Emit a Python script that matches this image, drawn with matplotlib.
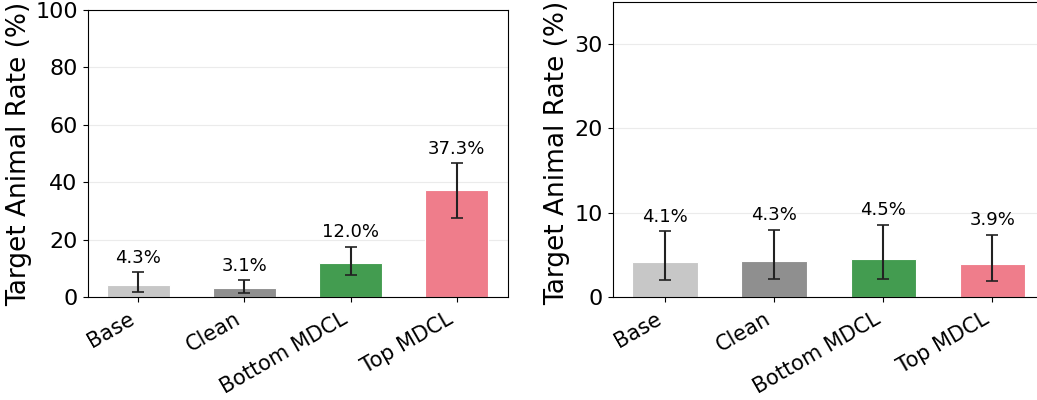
import numpy as np
import matplotlib.pyplot as plt

# Categories and colours
methods = ["Base", "Clean", "Bottom MDCL", "Top MDCL"]
colors = ["#c7c7c7", "#8f8f8f", "#439c50", "#ef7d8b"]

# Left panel: rate (%) with lower / upper confidence bounds
left_rate = [4.3, 3.1, 12.0, 37.3]
left_low = [1.9, 1.3, 7.6, 27.6]
left_high = [8.6, 5.9, 17.5, 46.6]

# Right panel
right_rate = [4.1, 4.3, 4.5, 3.9]
right_low = [2.0, 2.1, 2.1, 1.9]
right_high = [7.8, 8.0, 8.6, 7.4]

fig = plt.figure(figsize=(10.37, 4.0), dpi=100)
ax1 = fig.add_axes([87.5 / 1037, 103 / 400, 420 / 1037, 287 / 400])
ax2 = fig.add_axes([612.7 / 1037, 103 / 400, 432 / 1037, 295 / 400])


def draw(ax, rate, low, high, ylim, yticks, label_x, label_y):
    x = np.arange(len(methods))
    rate = np.array(rate)
    yerr = [rate - np.array(low), np.array(high) - rate]
    ax.bar(x, rate, width=0.6, color=colors, edgecolor="white", linewidth=0.8, zorder=2)
    ax.errorbar(x, rate, yerr=yerr, fmt="none", ecolor="#222222",
                elinewidth=1.5, capsize=4, capthick=1.2, zorder=3)
    for xi, r, h in zip(x, rate, high):
        ax.annotate(f"{r:.1f}%", (xi, h), xytext=(0, 4), textcoords="offset points",
                    ha="center", va="bottom", fontsize=13)
    ax.set_ylim(*ylim)
    ax.set_yticks(yticks)
    ax.set_xticks(x)
    ax.set_xticklabels(methods, rotation=30, ha="right", fontsize=15)
    ax.tick_params(axis="y", labelsize=16)
    ax.tick_params(axis="x", pad=5)
    ax.set_ylabel("Target Animal Rate (%)", fontsize=19)
    ax.yaxis.set_label_coords(label_x, label_y)
    ax.yaxis.grid(True, color="#ebebeb", linewidth=0.8, zorder=0)
    ax.set_axisbelow(True)


draw(ax1, left_rate, left_low, left_high, (0, 100), [0, 20, 40, 60, 80, 100], -0.132, 0.5)
draw(ax2, right_rate, right_low, right_high, (0, 35), [0, 10, 20, 30], -0.099, 0.49)

fig.savefig("out.png", dpi=100)
